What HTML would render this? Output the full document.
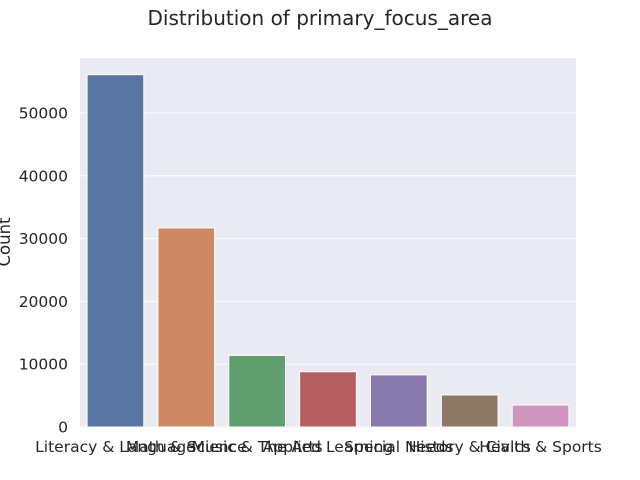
<!DOCTYPE html>
<html><head><meta charset="utf-8"><style>
body{margin:0;background:#fff;}
svg{display:block;font-family:"DejaVu Sans","Liberation Sans",sans-serif;}
</style></head><body>
<svg id="chart" width="640" height="480">
<text x="320" y="25" text-anchor="middle" font-size="20" fill="#262626">Distribution of primary_focus_area</text>
<rect x="80" y="58" width="496" height="369" fill="#eaeaf2"/>
<g id="grid"></g><g id="bars"></g><g id="labels"></g>
<text transform="translate(10,242) rotate(-90)" text-anchor="middle" font-size="16.5" fill="#262626">Count</text>
</svg>
<script>
const categories=["Literacy & Language","Math & Science","Music & The Arts","Applied Learning","Special Needs","History & Civics","Health & Sports"];
const counts=[56100,31700,11400,8800,8300,5100,3500];
const yTicks=[0,10000,20000,30000,40000,50000];
const colors=["#5975a4","#cc8963","#5f9e6e","#b55d60","#857aab","#8d7866","#d095bf"];
const x0=80,x1=576,yBase=427,yScale=(50000)/(427-113);
const ns="http://www.w3.org/2000/svg";
function y(v){return yBase-v/yScale;}
const bw=(x1-x0)/categories.length;
function xc(i){return x0+bw*(i+0.5);}
const grid=document.getElementById('grid'),bars=document.getElementById('bars'),labels=document.getElementById('labels');
yTicks.forEach(t=>{
 const l=document.createElementNS(ns,'line');
 l.setAttribute('x1',x0);l.setAttribute('x2',x1);l.setAttribute('y1',y(t));l.setAttribute('y2',y(t));
 l.setAttribute('stroke','#fff');l.setAttribute('stroke-width','1');
 
 
 grid.appendChild(l);
 const tx=document.createElementNS(ns,'text');
 tx.setAttribute('x',x0-12);tx.setAttribute('y',y(t)+5.5);tx.setAttribute('text-anchor','end');
 tx.setAttribute('font-size','15.5');tx.setAttribute('fill','#262626');tx.textContent=t;
 
 
 labels.appendChild(tx);
});
categories.forEach((c,i)=>{
 const r=document.createElementNS(ns,'rect');
 const w=bw*0.8;
 r.setAttribute('x',xc(i)-w/2);r.setAttribute('width',w);
 r.setAttribute('y',y(counts[i]));r.setAttribute('height',yBase-y(counts[i]));
 r.setAttribute('fill',colors[i]);r.setAttribute('stroke','#fff');r.setAttribute('stroke-width','1');
 
 
 bars.appendChild(r);
 const tx=document.createElementNS(ns,'text');
 tx.setAttribute('x',xc(i));tx.setAttribute('y',452);tx.setAttribute('text-anchor','middle');
 tx.setAttribute('font-size','15.5');tx.setAttribute('fill','#262626');tx.textContent=c;
 
 
 labels.appendChild(tx);
});
</script>
</body></html>
